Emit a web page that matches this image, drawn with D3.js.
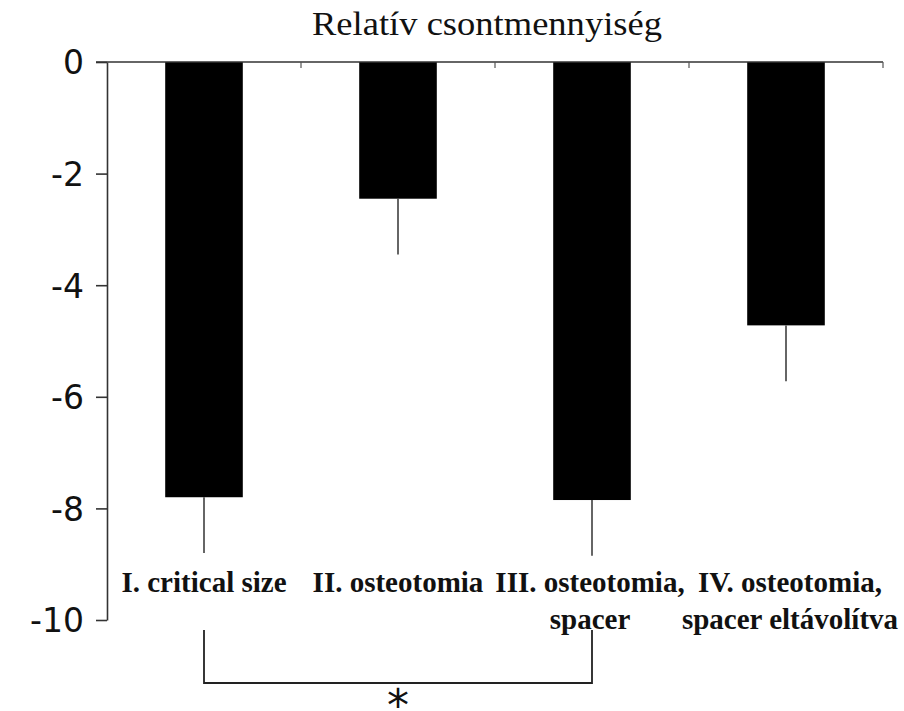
<!DOCTYPE html>
<html>
<head>
<meta charset="utf-8">
<script src="https://cdn.jsdelivr.net/npm/d3@7"></script>
<style>
  body { margin: 0; background: #fff; }
  svg { display: block; }
</style>
</head>
<body>
<svg id="chart" width="904" height="711"></svg>
<script>
// values
const groups = ["I", "II", "III", "IV"];
const labels = [
  ["I. critical size"],
  ["II. osteotomia"],
  ["III. osteotomia,", "spacer"],
  ["IV. osteotomia,", "spacer eltávolítva"]
];
const means = [-7.8, -2.45, -7.85, -4.72];
const errs = [1.0, 1.0, 1.0, 1.0];
const yTicks = [0, -2, -4, -6, -8, -10];
const title = "Relatív csontmennyiség";

const svg = d3.select("#chart");
const mLeft = 107, mRight = 883, mTop = 62, mBottom = 620;

const x = d3.scaleBand().domain(groups).range([mLeft, mRight]).paddingInner(0.6).paddingOuter(0.3);
const xBand = d3.scaleBand().domain(groups).range([mLeft, mRight]);
const y = d3.scaleLinear().domain([0, -10]).range([mTop, mBottom]);

// title
svg.append("text")
  .attr("x", 487).attr("y", 35)
  .attr("text-anchor", "middle")
  .attr("font-family", "Liberation Serif, serif")
  .attr("font-size", 33)
  .attr("fill", "#111")
  .attr("textLength", 350).attr("lengthAdjust", "spacingAndGlyphs")
  .text(title);

// bars
svg.selectAll("rect.bar").data(means).join("rect")
  .attr("class", "bar")
  .attr("x", (d, i) => x(groups[i]))
  .attr("width", x.bandwidth())
  .attr("y", y(0))
  .attr("height", d => y(d) - y(0))
  .attr("fill", "#000");

// error bars (downward only)
svg.selectAll("line.err").data(means).join("line")
  .attr("class", "err")
  .attr("x1", (d, i) => x(groups[i]) + x.bandwidth() / 2)
  .attr("x2", (d, i) => x(groups[i]) + x.bandwidth() / 2)
  .attr("y1", d => y(d))
  .attr("y2", (d, i) => y(d - errs[i]))
  .attr("stroke", "#333").attr("stroke-width", 1.5);

// y axis
const yAxis = d3.axisLeft(y).tickValues(yTicks).tickSize(11).tickSizeOuter(0).tickPadding(12)
  .tickFormat(d => String(d));
const gy = svg.append("g").attr("transform", `translate(${mLeft},0)`).call(yAxis);
gy.select(".domain").attr("stroke", "#333").attr("stroke-width", 1.6);
gy.selectAll(".tick line").attr("stroke", "#333").attr("stroke-width", 1.6);
gy.selectAll(".tick text")
  .attr("font-family", "DejaVu Sans, sans-serif")
  .attr("font-size", 33)
  .attr("fill", "#111")
  .attr("dy", "0.36em");

// x axis at zero, ticks between groups
const xAxisLine = svg.append("g");
xAxisLine.append("line")
  .attr("x1", mLeft - 11).attr("x2", mRight)
  .attr("y1", y(0)).attr("y2", y(0))
  .attr("stroke", "#333").attr("stroke-width", 1.6);
xAxisLine.selectAll("line.xt").data(groups).join("line")
  .attr("class", "xt")
  .attr("x1", d => xBand(d) + xBand.bandwidth())
  .attr("x2", d => xBand(d) + xBand.bandwidth())
  .attr("y1", y(0)).attr("y2", y(0) + 6)
  .attr("stroke", "#555").attr("stroke-width", 1.2);

// category labels
const lab = svg.selectAll("text.cat").data(labels).join("text")
  .attr("class", "cat")
  .attr("text-anchor", "middle")
  .attr("font-family", "Liberation Serif, serif")
  .attr("font-weight", "bold")
  .attr("font-size", 29)
  .attr("fill", "#111");
lab.each(function (lines, i) {
  const cx = xBand(groups[i]) + xBand.bandwidth() / 2 + (i === 3 ? 4 : 0) - (i === 2 ? 2 : 0);
  d3.select(this).selectAll("tspan").data(lines).join("tspan")
    .attr("x", cx)
    .attr("y", (d, j) => 592 + j * 37)
    .text(d => d);
});

// significance bracket between I and III
const b1 = x(groups[0]) + x.bandwidth() / 2, b3 = x(groups[2]) + x.bandwidth() / 2;
const by0 = 630, by1 = 683;
svg.append("path")
  .attr("d", `M${b1},${by0}V${by1}H${b3}V${by0}`)
  .attr("fill", "none").attr("stroke", "#222").attr("stroke-width", 1.8);
svg.append("text")
  .attr("x", (b1 + b3) / 2).attr("y", 721)
  .attr("text-anchor", "middle")
  .attr("font-family", "DejaVu Sans, sans-serif")
  .attr("font-size", 44)
  .attr("fill", "#111")
  .text("*");
</script>
</body>
</html>
